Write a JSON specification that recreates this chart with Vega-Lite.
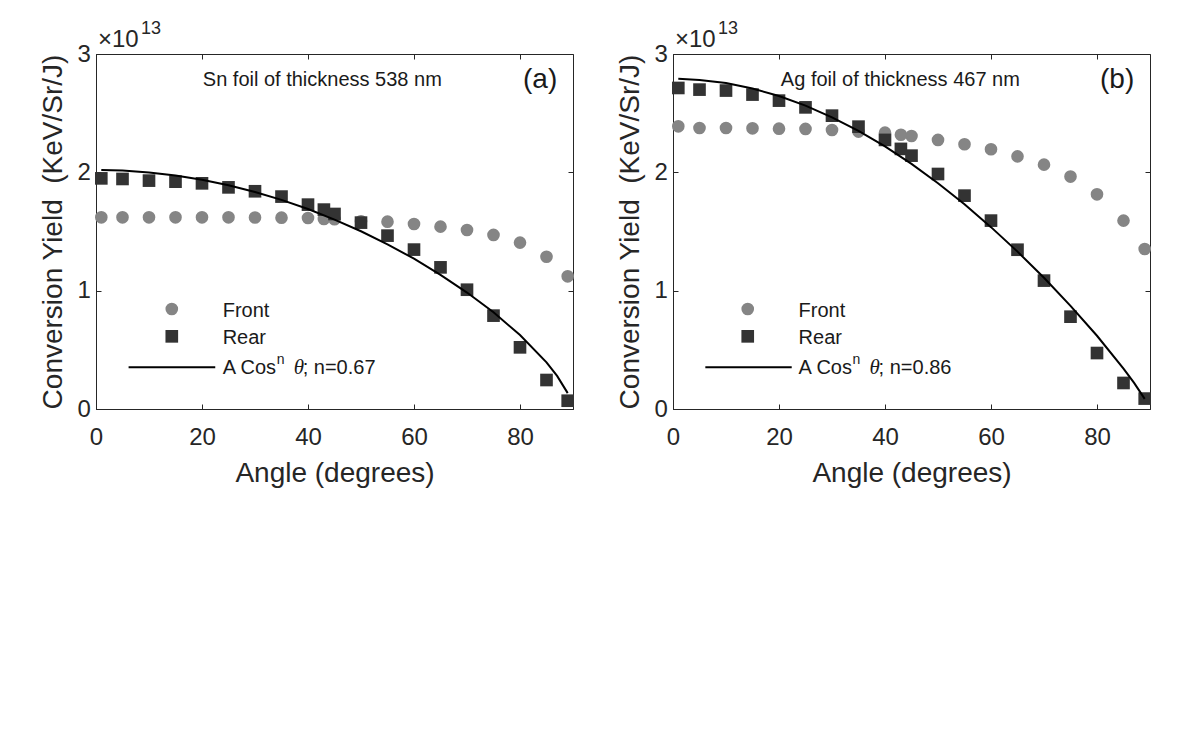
{
  "$schema": "https://vega.github.io/schema/vega-lite/v6.json",
  "padding": {"left": 38, "top": 19, "right": 5, "bottom": 5},
  "spacing": 40,
  "datasets": {
    "sn": [
      {"angle": 1, "yield": 1.62, "series": "Front"},
      {"angle": 5, "yield": 1.62, "series": "Front"},
      {"angle": 10, "yield": 1.62, "series": "Front"},
      {"angle": 15, "yield": 1.62, "series": "Front"},
      {"angle": 20, "yield": 1.62, "series": "Front"},
      {"angle": 25, "yield": 1.62, "series": "Front"},
      {"angle": 30, "yield": 1.618, "series": "Front"},
      {"angle": 35, "yield": 1.617, "series": "Front"},
      {"angle": 40, "yield": 1.614, "series": "Front"},
      {"angle": 43, "yield": 1.606, "series": "Front"},
      {"angle": 45, "yield": 1.604, "series": "Front"},
      {"angle": 50, "yield": 1.586, "series": "Front"},
      {"angle": 55, "yield": 1.583, "series": "Front"},
      {"angle": 60, "yield": 1.563, "series": "Front"},
      {"angle": 65, "yield": 1.541, "series": "Front"},
      {"angle": 70, "yield": 1.513, "series": "Front"},
      {"angle": 75, "yield": 1.471, "series": "Front"},
      {"angle": 80, "yield": 1.406, "series": "Front"},
      {"angle": 85, "yield": 1.287, "series": "Front"},
      {"angle": 89, "yield": 1.121, "series": "Front"},
      {"angle": 1, "yield": 1.949, "series": "Rear"},
      {"angle": 5, "yield": 1.944, "series": "Rear"},
      {"angle": 10, "yield": 1.93, "series": "Rear"},
      {"angle": 15, "yield": 1.921, "series": "Rear"},
      {"angle": 20, "yield": 1.907, "series": "Rear"},
      {"angle": 25, "yield": 1.873, "series": "Rear"},
      {"angle": 30, "yield": 1.84, "series": "Rear"},
      {"angle": 35, "yield": 1.795, "series": "Rear"},
      {"angle": 40, "yield": 1.727, "series": "Rear"},
      {"angle": 43, "yield": 1.685, "series": "Rear"},
      {"angle": 45, "yield": 1.648, "series": "Rear"},
      {"angle": 50, "yield": 1.575, "series": "Rear"},
      {"angle": 55, "yield": 1.465, "series": "Rear"},
      {"angle": 60, "yield": 1.347, "series": "Rear"},
      {"angle": 65, "yield": 1.197, "series": "Rear"},
      {"angle": 70, "yield": 1.008, "series": "Rear"},
      {"angle": 75, "yield": 0.789, "series": "Rear"},
      {"angle": 80, "yield": 0.521, "series": "Rear"},
      {"angle": 85, "yield": 0.245, "series": "Rear"},
      {"angle": 89, "yield": 0.07, "series": "Rear"},
      {"angle": 1, "yield": 2.02, "series": "Fit"},
      {"angle": 5, "yield": 2.015, "series": "Fit"},
      {"angle": 10, "yield": 1.999, "series": "Fit"},
      {"angle": 15, "yield": 1.974, "series": "Fit"},
      {"angle": 20, "yield": 1.938, "series": "Fit"},
      {"angle": 25, "yield": 1.891, "series": "Fit"},
      {"angle": 30, "yield": 1.834, "series": "Fit"},
      {"angle": 35, "yield": 1.767, "series": "Fit"},
      {"angle": 40, "yield": 1.69, "series": "Fit"},
      {"angle": 45, "yield": 1.601, "series": "Fit"},
      {"angle": 50, "yield": 1.502, "series": "Fit"},
      {"angle": 55, "yield": 1.392, "series": "Fit"},
      {"angle": 60, "yield": 1.27, "series": "Fit"},
      {"angle": 65, "yield": 1.134, "series": "Fit"},
      {"angle": 70, "yield": 0.984, "series": "Fit"},
      {"angle": 75, "yield": 0.817, "series": "Fit"},
      {"angle": 80, "yield": 0.625, "series": "Fit"},
      {"angle": 85, "yield": 0.394, "series": "Fit"},
      {"angle": 87, "yield": 0.28, "series": "Fit"},
      {"angle": 89, "yield": 0.134, "series": "Fit"}
    ],
    "ag": [
      {"angle": 1, "yield": 2.389, "series": "Front"},
      {"angle": 5, "yield": 2.375, "series": "Front"},
      {"angle": 10, "yield": 2.375, "series": "Front"},
      {"angle": 15, "yield": 2.372, "series": "Front"},
      {"angle": 20, "yield": 2.369, "series": "Front"},
      {"angle": 25, "yield": 2.367, "series": "Front"},
      {"angle": 30, "yield": 2.358, "series": "Front"},
      {"angle": 35, "yield": 2.344, "series": "Front"},
      {"angle": 40, "yield": 2.335, "series": "Front"},
      {"angle": 43, "yield": 2.318, "series": "Front"},
      {"angle": 45, "yield": 2.307, "series": "Front"},
      {"angle": 50, "yield": 2.274, "series": "Front"},
      {"angle": 55, "yield": 2.237, "series": "Front"},
      {"angle": 60, "yield": 2.195, "series": "Front"},
      {"angle": 65, "yield": 2.135, "series": "Front"},
      {"angle": 70, "yield": 2.065, "series": "Front"},
      {"angle": 75, "yield": 1.964, "series": "Front"},
      {"angle": 80, "yield": 1.814, "series": "Front"},
      {"angle": 85, "yield": 1.592, "series": "Front"},
      {"angle": 89, "yield": 1.352, "series": "Front"},
      {"angle": 1, "yield": 2.713, "series": "Rear"},
      {"angle": 5, "yield": 2.699, "series": "Rear"},
      {"angle": 10, "yield": 2.691, "series": "Rear"},
      {"angle": 15, "yield": 2.657, "series": "Rear"},
      {"angle": 20, "yield": 2.606, "series": "Rear"},
      {"angle": 25, "yield": 2.549, "series": "Rear"},
      {"angle": 30, "yield": 2.479, "series": "Rear"},
      {"angle": 35, "yield": 2.386, "series": "Rear"},
      {"angle": 40, "yield": 2.274, "series": "Rear"},
      {"angle": 43, "yield": 2.198, "series": "Rear"},
      {"angle": 45, "yield": 2.141, "series": "Rear"},
      {"angle": 50, "yield": 1.986, "series": "Rear"},
      {"angle": 55, "yield": 1.803, "series": "Rear"},
      {"angle": 60, "yield": 1.592, "series": "Rear"},
      {"angle": 65, "yield": 1.346, "series": "Rear"},
      {"angle": 70, "yield": 1.085, "series": "Rear"},
      {"angle": 75, "yield": 0.78, "series": "Rear"},
      {"angle": 80, "yield": 0.473, "series": "Rear"},
      {"angle": 85, "yield": 0.22, "series": "Rear"},
      {"angle": 89, "yield": 0.088, "series": "Rear"},
      {"angle": 1, "yield": 2.79, "series": "Fit"},
      {"angle": 5, "yield": 2.781, "series": "Fit"},
      {"angle": 10, "yield": 2.754, "series": "Fit"},
      {"angle": 15, "yield": 2.708, "series": "Fit"},
      {"angle": 20, "yield": 2.645, "series": "Fit"},
      {"angle": 25, "yield": 2.564, "series": "Fit"},
      {"angle": 30, "yield": 2.465, "series": "Fit"},
      {"angle": 35, "yield": 2.35, "series": "Fit"},
      {"angle": 40, "yield": 2.219, "series": "Fit"},
      {"angle": 45, "yield": 2.071, "series": "Fit"},
      {"angle": 50, "yield": 1.908, "series": "Fit"},
      {"angle": 55, "yield": 1.73, "series": "Fit"},
      {"angle": 60, "yield": 1.537, "series": "Fit"},
      {"angle": 65, "yield": 1.33, "series": "Fit"},
      {"angle": 70, "yield": 1.109, "series": "Fit"},
      {"angle": 75, "yield": 0.872, "series": "Fit"},
      {"angle": 80, "yield": 0.619, "series": "Fit"},
      {"angle": 85, "yield": 0.342, "series": "Fit"},
      {"angle": 87, "yield": 0.221, "series": "Fit"},
      {"angle": 89, "yield": 0.086, "series": "Fit"}
    ]
  },
  "config": {
    "font": "Liberation Sans",
    "view": {"stroke": "#262626", "strokeWidth": 1},
    "axis": {
      "grid": false,
      "domainColor": "#262626",
      "domainWidth": 1,
      "tickColor": "#262626",
      "tickWidth": 1,
      "tickSize": -5,
      "labelColor": "#262626",
      "labelFont": "Liberation Sans",
      "labelFontSize": 24,
      "labelFlush": false,
      "labelOverlap": false,
      "titleColor": "#262626",
      "titleFont": "Liberation Sans",
      "titleFontSize": 28,
      "titleFontWeight": "normal"
    },
    "axisX": {"labelPadding": 21.6, "titlePadding": 10},
    "axisY": {"labelPadding": 10.6, "titlePadding": 10},
    "text": {"font": "Liberation Sans", "color": "#1a1a1a"}
  },
  "hconcat": [
    {
      "width": 477,
      "height": 355,
      "layer": [
        {
          "data": {"name": "sn"},
          "transform": [{"filter": "datum.series !== 'Fit'"}],
          "mark": {"type": "point", "filled": true, "opacity": 1, "size": 160},
          "encoding": {
            "x": {"field": "angle", "type": "quantitative", "scale": {"domain": [0, 90], "nice": false, "zero": false}, "axis": {"values": [0, 20, 40, 60, 80], "title": "Angle (degrees)"}},
            "y": {"field": "yield", "type": "quantitative", "scale": {"domain": [0, 3], "nice": false}, "axis": {"values": [0, 1, 2, 3], "format": "d", "title": "Conversion Yield\u00a0 (KeV/Sr/J)"}},
            "shape": {"field": "series", "type": "nominal", "scale": {"domain": ["Front", "Rear"], "range": ["circle", "square"]}, "legend": null},
            "color": {"field": "series", "type": "nominal", "scale": {"domain": ["Front", "Rear"], "range": ["#858585", "#333333"]}, "legend": null}
          }
        },
        {
          "data": {"name": "sn"},
          "transform": [{"filter": "datum.series === 'Fit'"}],
          "mark": {"type": "line", "color": "#000000", "strokeWidth": 2},
          "encoding": {
            "x": {"field": "angle", "type": "quantitative", "axis": {"orient": "top", "values": [0, 20, 40, 60, 80], "labels": false, "domain": false, "title": null}},
            "y": {"field": "yield", "type": "quantitative", "axis": {"orient": "right", "values": [0, 1, 2, 3], "labels": false, "domain": false, "title": null}}
          }
        },
        {
          "data": {"values": [{}]},
          "mark": {"type": "point", "filled": true, "opacity": 1, "shape": "circle", "size": 160, "color": "#858585"},
          "encoding": {"x": {"datum": 14.3, "axis": null}, "y": {"datum": 0.845, "axis": null}}
        },
        {
          "data": {"values": [{}]},
          "mark": {"type": "point", "filled": true, "opacity": 1, "shape": "square", "size": 160, "color": "#333333"},
          "encoding": {"x": {"datum": 14.3, "axis": null}, "y": {"datum": 0.614, "axis": null}}
        },
        {
          "data": {"values": [{}]},
          "mark": {"type": "rule", "color": "#000000", "strokeWidth": 2},
          "encoding": {"x": {"datum": 6.15, "axis": null}, "x2": {"datum": 22.5}, "y": {"datum": 0.352, "axis": null}}
        },
        {
          "data": {"values": [{}]},
          "mark": {"type": "text", "text": "Front", "align": "left", "baseline": "alphabetic", "fontSize": 20},
          "encoding": {"x": {"datum": 23.9, "axis": null}, "y": {"datum": 0.774, "axis": null}}
        },
        {
          "data": {"values": [{}]},
          "mark": {"type": "text", "text": "Rear", "align": "left", "baseline": "alphabetic", "fontSize": 20},
          "encoding": {"x": {"datum": 23.9, "axis": null}, "y": {"datum": 0.549, "axis": null}}
        },
        {
          "data": {"values": [{}]},
          "mark": {"type": "text", "text": "A Cos", "align": "left", "baseline": "alphabetic", "fontSize": 20},
          "encoding": {"x": {"datum": 23.9, "axis": null}, "y": {"datum": 0.296, "axis": null}}
        },
        {
          "data": {"values": [{}]},
          "mark": {"type": "text", "text": "n", "align": "left", "baseline": "alphabetic", "fontSize": 14, "dx": 54, "dy": -10},
          "encoding": {"x": {"datum": 23.9, "axis": null}, "y": {"datum": 0.296, "axis": null}}
        },
        {
          "data": {"values": [{}]},
          "mark": {"type": "text", "text": "θ", "align": "left", "baseline": "alphabetic", "fontSize": 21, "font": "Liberation Serif", "fontStyle": "italic", "dx": 71},
          "encoding": {"x": {"datum": 23.9, "axis": null}, "y": {"datum": 0.296, "axis": null}}
        },
        {
          "data": {"values": [{}]},
          "mark": {"type": "text", "text": "; n=0.67", "align": "left", "baseline": "alphabetic", "fontSize": 20, "dx": 80},
          "encoding": {"x": {"datum": 23.9, "axis": null}, "y": {"datum": 0.296, "axis": null}}
        },
        {
          "data": {"values": [{}]},
          "mark": {"type": "text", "text": "Sn foil of thickness 538 nm", "align": "center", "baseline": "alphabetic", "fontSize": 20},
          "encoding": {"x": {"datum": 42.7, "axis": null}, "y": {"datum": 2.733, "axis": null}}
        },
        {
          "data": {"values": [{}]},
          "mark": {"type": "text", "text": "(a)", "align": "center", "baseline": "middle", "fontSize": 28},
          "encoding": {"x": {"datum": 83.8, "axis": null}, "y": {"datum": 2.78, "axis": null}}
        },
        {
          "data": {"values": [{}]},
          "mark": {"type": "text", "text": "×10", "align": "left", "baseline": "alphabetic", "fontSize": 24, "color": "#262626", "dx": 2, "dy": -6.7},
          "encoding": {"x": {"datum": 0, "axis": null}, "y": {"datum": 3, "axis": null}}
        },
        {
          "data": {"values": [{}]},
          "mark": {"type": "text", "text": "13", "align": "left", "baseline": "alphabetic", "fontSize": 18, "color": "#262626", "dx": 45, "dy": -20},
          "encoding": {"x": {"datum": 0, "axis": null}, "y": {"datum": 3, "axis": null}}
        }
      ],
      "resolve": {"axis": {"x": "independent", "y": "independent"}}
    },
    {
      "width": 477,
      "height": 355,
      "layer": [
        {
          "data": {"name": "ag"},
          "transform": [{"filter": "datum.series !== 'Fit'"}],
          "mark": {"type": "point", "filled": true, "opacity": 1, "size": 160},
          "encoding": {
            "x": {"field": "angle", "type": "quantitative", "scale": {"domain": [0, 90], "nice": false, "zero": false}, "axis": {"values": [0, 20, 40, 60, 80], "title": "Angle (degrees)"}},
            "y": {"field": "yield", "type": "quantitative", "scale": {"domain": [0, 3], "nice": false}, "axis": {"values": [0, 1, 2, 3], "format": "d", "title": "Conversion Yield\u00a0 (KeV/Sr/J)"}},
            "shape": {"field": "series", "type": "nominal", "scale": {"domain": ["Front", "Rear"], "range": ["circle", "square"]}, "legend": null},
            "color": {"field": "series", "type": "nominal", "scale": {"domain": ["Front", "Rear"], "range": ["#858585", "#333333"]}, "legend": null}
          }
        },
        {
          "data": {"name": "ag"},
          "transform": [{"filter": "datum.series === 'Fit'"}],
          "mark": {"type": "line", "color": "#000000", "strokeWidth": 2},
          "encoding": {
            "x": {"field": "angle", "type": "quantitative", "axis": {"orient": "top", "values": [0, 20, 40, 60, 80], "labels": false, "domain": false, "title": null}},
            "y": {"field": "yield", "type": "quantitative", "axis": {"orient": "right", "values": [0, 1, 2, 3], "labels": false, "domain": false, "title": null}}
          }
        },
        {
          "data": {"values": [{}]},
          "mark": {"type": "point", "filled": true, "opacity": 1, "shape": "circle", "size": 160, "color": "#858585"},
          "encoding": {"x": {"datum": 14.1, "axis": null}, "y": {"datum": 0.845, "axis": null}}
        },
        {
          "data": {"values": [{}]},
          "mark": {"type": "point", "filled": true, "opacity": 1, "shape": "square", "size": 160, "color": "#333333"},
          "encoding": {"x": {"datum": 14.1, "axis": null}, "y": {"datum": 0.614, "axis": null}}
        },
        {
          "data": {"values": [{}]},
          "mark": {"type": "rule", "color": "#000000", "strokeWidth": 2},
          "encoding": {"x": {"datum": 6.1, "axis": null}, "x2": {"datum": 22.4}, "y": {"datum": 0.352, "axis": null}}
        },
        {
          "data": {"values": [{}]},
          "mark": {"type": "text", "text": "Front", "align": "left", "baseline": "alphabetic", "fontSize": 20},
          "encoding": {"x": {"datum": 23.7, "axis": null}, "y": {"datum": 0.774, "axis": null}}
        },
        {
          "data": {"values": [{}]},
          "mark": {"type": "text", "text": "Rear", "align": "left", "baseline": "alphabetic", "fontSize": 20},
          "encoding": {"x": {"datum": 23.7, "axis": null}, "y": {"datum": 0.549, "axis": null}}
        },
        {
          "data": {"values": [{}]},
          "mark": {"type": "text", "text": "A Cos", "align": "left", "baseline": "alphabetic", "fontSize": 20},
          "encoding": {"x": {"datum": 23.7, "axis": null}, "y": {"datum": 0.296, "axis": null}}
        },
        {
          "data": {"values": [{}]},
          "mark": {"type": "text", "text": "n", "align": "left", "baseline": "alphabetic", "fontSize": 14, "dx": 54, "dy": -10},
          "encoding": {"x": {"datum": 23.7, "axis": null}, "y": {"datum": 0.296, "axis": null}}
        },
        {
          "data": {"values": [{}]},
          "mark": {"type": "text", "text": "θ", "align": "left", "baseline": "alphabetic", "fontSize": 21, "font": "Liberation Serif", "fontStyle": "italic", "dx": 71},
          "encoding": {"x": {"datum": 23.7, "axis": null}, "y": {"datum": 0.296, "axis": null}}
        },
        {
          "data": {"values": [{}]},
          "mark": {"type": "text", "text": "; n=0.86", "align": "left", "baseline": "alphabetic", "fontSize": 20, "dx": 80},
          "encoding": {"x": {"datum": 23.7, "axis": null}, "y": {"datum": 0.296, "axis": null}}
        },
        {
          "data": {"values": [{}]},
          "mark": {"type": "text", "text": "Ag foil of thickness 467 nm", "align": "center", "baseline": "alphabetic", "fontSize": 20},
          "encoding": {"x": {"datum": 42.9, "axis": null}, "y": {"datum": 2.733, "axis": null}}
        },
        {
          "data": {"values": [{}]},
          "mark": {"type": "text", "text": "(b)", "align": "center", "baseline": "middle", "fontSize": 28},
          "encoding": {"x": {"datum": 83.8, "axis": null}, "y": {"datum": 2.78, "axis": null}}
        },
        {
          "data": {"values": [{}]},
          "mark": {"type": "text", "text": "×10", "align": "left", "baseline": "alphabetic", "fontSize": 24, "color": "#262626", "dx": 2, "dy": -6.7},
          "encoding": {"x": {"datum": 0, "axis": null}, "y": {"datum": 3, "axis": null}}
        },
        {
          "data": {"values": [{}]},
          "mark": {"type": "text", "text": "13", "align": "left", "baseline": "alphabetic", "fontSize": 18, "color": "#262626", "dx": 45, "dy": -20},
          "encoding": {"x": {"datum": 0, "axis": null}, "y": {"datum": 3, "axis": null}}
        }
      ],
      "resolve": {"axis": {"x": "independent", "y": "independent"}}
    }
  ]
}
